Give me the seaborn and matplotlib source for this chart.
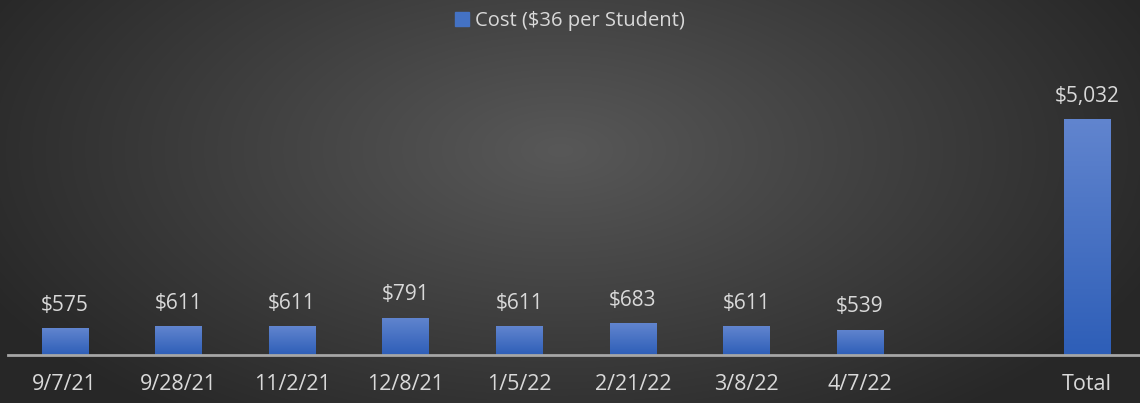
import numpy as np
import pandas as pd
import seaborn as sns
import matplotlib
matplotlib.use("Agg")
from matplotlib import pyplot as plt

# data
dates = ["9/7/21", "9/28/21", "11/2/21", "12/8/21", "1/5/22",
         "2/21/22", "3/8/22", "4/7/22", " ", "Total"]
cost = [575, 611, 611, 791, 611, 683, 611, 539, np.nan, 5032]
series_name = "Cost ($36 per Student)"

df = pd.DataFrame({"Date": dates, "Cost": cost})

sns.set_style("dark")
plt.rcParams["font.family"] = ["Open Sans", "DejaVu Sans"]
txt_col = "#D9D9D9"

fig = plt.figure(figsize=(11.4, 4.03), dpi=100)

# dark radial background
bg = fig.add_axes([0, 0, 1, 1], zorder=0)
yy, xx = np.mgrid[0:403, 0:1140]
r = np.sqrt(((xx - 560) / 640.0) ** 2 + ((yy - 150) / 330.0) ** 2)
r = np.clip(r, 0, 1)
shade = (0.345 - 0.19 * r)
bg.imshow(np.dstack([shade, shade, shade]), aspect="auto", extent=[0, 1, 0, 1])
bg.axis("off")

ax = fig.add_axes([8 / 1140, 48 / 403, 1136 / 1140, 281 / 403], zorder=1)
ax.patch.set_alpha(0)

sns.barplot(data=df, x="Date", y="Cost", order=dates, color="#4472C4",
            width=0.41, linewidth=0, ax=ax, legend=False)

ax.set_ylim(0, 6000)
ax.set_xlim(-0.5, len(dates) - 0.5)

# vertical gradient on every bar
grad = np.linspace(0, 1, 100).reshape(-1, 1)
top_c = np.array([0.38, 0.52, 0.81])
bot_c = np.array([0.18, 0.37, 0.72])
img = top_c * (1 - grad[..., None]) + bot_c * grad[..., None]
img = img.reshape(100, 1, 3)
for p in ax.patches:
    h = p.get_height()
    if not np.isfinite(h) or h == 0:
        continue
    x0 = p.get_x()
    w = p.get_width()
    im = ax.imshow(img, extent=[x0, x0 + w, 0, h], aspect="auto", zorder=2)
    im.set_clip_path(p)
    p.set_zorder(2)

for i, v in enumerate(cost):
    if np.isnan(v):
        continue
    ax.annotate(f"${v:,.0f}", (i, v), xytext=(0, 9), textcoords="offset points",
                ha="center", va="bottom", color=txt_col, fontsize=15)

ax.set_xlabel("")
ax.set_ylabel("")
ax.set_yticks([])
ax.tick_params(axis="x", colors=txt_col, labelsize=15.5, length=0, pad=14)
for s in ["top", "left", "right"]:
    ax.spines[s].set_visible(False)
ax.spines["bottom"].set_color("#A6A6A6")
ax.spines["bottom"].set_linewidth(2)
ax.grid(False)

leg = fig.legend(handles=[plt.Rectangle((0, 0), 1, 1, color="#4472C4")],
                 labels=[series_name], loc="center", bbox_to_anchor=(0.5, 1 - 21 / 403),
                 frameon=False, fontsize=14.5, handlelength=0.7, handleheight=0.7,
                 handletextpad=0.3)
for t in leg.get_texts():
    t.set_color(txt_col)

plt.savefig("out.png", dpi=100)
